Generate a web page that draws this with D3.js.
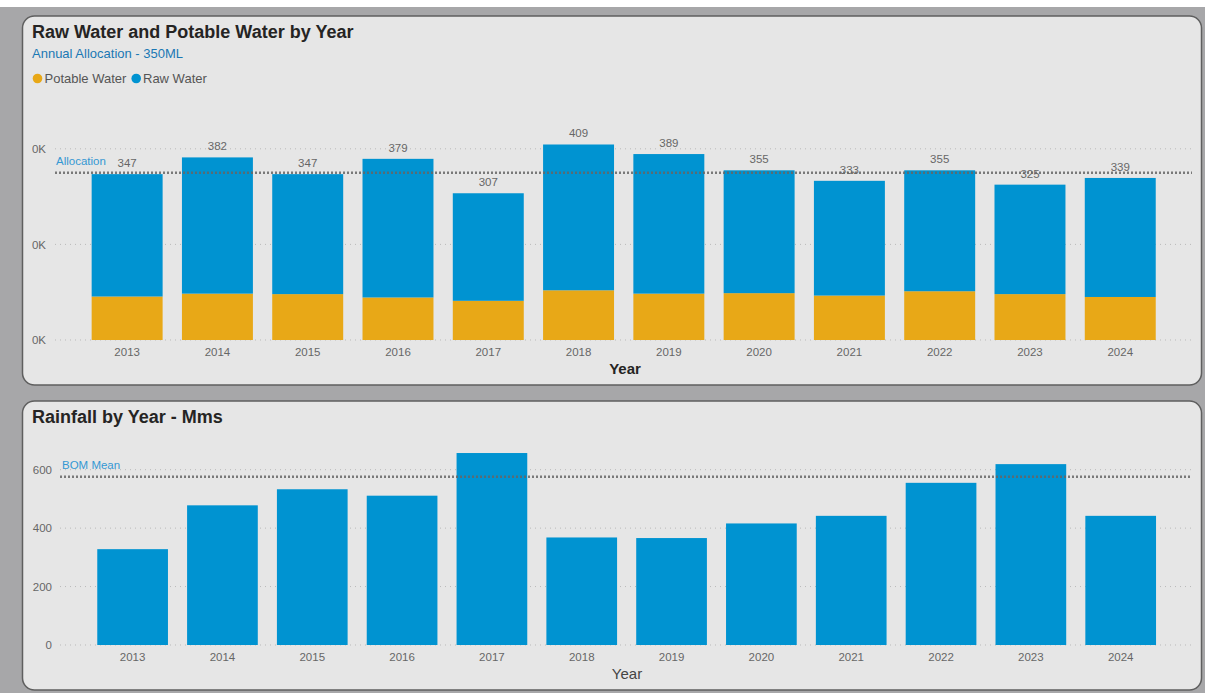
<!DOCTYPE html>
<html>
<head>
<meta charset="utf-8">
<script src="https://cdn.jsdelivr.net/npm/d3@7"></script>
<style>
  html, body { margin: 0; padding: 0; background: #a7a7a9; }
  svg { display: block; font-family: "Liberation Sans", Arial, sans-serif; }
</style>
</head>
<body>
<svg id="chart" width="1205" height="693"></svg>
<script>
// ---- data ----
const years = ["2013","2014","2015","2016","2017","2018","2019","2020","2021","2022","2023","2024"];
const potableWater = [91, 97, 96, 89, 82, 104, 97, 98, 93, 102, 96, 90];
const rawWater = [256, 285, 251, 290, 225, 305, 292, 257, 240, 253, 229, 249];
const totalLabels = [347, 382, 347, 379, 307, 409, 389, 355, 333, 355, 325, 339];
const allocation = 350;
const waterTicks = [0, 200, 400];
const rainfall = [328, 478, 533, 511, 657, 368, 366, 416, 442, 555, 619, 442];
const bomMean = 576;
const rainTicks = [0, 200, 400, 600];
const seriesNames = ["Potable Water", "Raw Water"];

const colors = { potable: "#e8a817", raw: "#0093d1" };
const svg = d3.select("#chart");

// background strip & panels
svg.append("rect").attr("x", 0).attr("y", 0).attr("width", 1205).attr("height", 7).attr("fill", "#ffffff");
function panel(y, h) {
  svg.append("rect").attr("x", 22.5).attr("y", y).attr("width", 1179).attr("height", h)
    .attr("rx", 12).attr("ry", 12).attr("fill", "#e6e6e6").attr("stroke", "#5f5f5f").attr("stroke-width", 1.5);
}
panel(16, 369);
panel(401, 289);

// ---- Chart 1 ----
const g1 = svg.append("g");
g1.append("text").attr("x", 32).attr("y", 37.5).attr("font-size", 18).attr("font-weight", "bold")
  .attr("fill", "#252423").text("Raw Water and Potable Water by Year");
g1.append("text").attr("x", 32).attr("y", 57.5).attr("font-size", 13).attr("fill", "#1a78b4")
  .text("Annual Allocation - 350ML");

const legend = [{ name: seriesNames[0], c: colors.potable, cx: 37.5, tx: 44.5 }, { name: seriesNames[1], c: colors.raw, cx: 136.2, tx: 143 }];
legend.forEach(l => {
  g1.append("circle").attr("cx", l.cx).attr("cy", 78.5).attr("r", 4.8).attr("fill", l.c);
  g1.append("text").attr("x", l.tx).attr("y", 83).attr("font-size", 13).attr("fill", "#555").text(l.name);
});

const x1 = d3.scaleBand().domain(years).range([82, 1165.4]).paddingInner(0.214).paddingOuter(0.107);
const y1 = d3.scaleLinear().domain([0, 440]).range([340, 340 - 440 * 0.478]);

// gridlines
const grid1 = g1.append("g");
waterTicks.forEach(t => {
  grid1.append("line").attr("x1", 55).attr("x2", 1192).attr("y1", y1(t)).attr("y2", y1(t))
    .attr("stroke", "#b9b9b9").attr("stroke-width", 1).attr("stroke-dasharray", "1,4");
});
const yAxis1 = d3.axisLeft(y1).tickValues(waterTicks).tickSize(0).tickPadding(0)
  .tickFormat(d => d3.format(".0f")(d / 1000) + "K");
g1.append("g").attr("transform", "translate(46,0)").call(yAxis1)
  .call(s => s.select(".domain").remove())
  .call(s => s.selectAll("text").attr("font-size", 11.5).attr("fill", "#666").attr("font-family", "Liberation Sans, Arial, sans-serif"));

// stacked bars
const stackData = years.map((y, i) => ({ year: y, potable: potableWater[i], raw: rawWater[i] }));
const stack = d3.stack().keys(["potable", "raw"])(stackData);
g1.append("g").selectAll("g").data(stack).join("g")
  .attr("fill", d => colors[d.key])
  .selectAll("rect").data(d => d).join("rect")
  .attr("x", d => x1(d.data.year)).attr("width", x1.bandwidth())
  .attr("y", d => y1(d[1])).attr("height", d => y1(d[0]) - y1(d[1]));

// allocation line
g1.append("line").attr("x1", 55).attr("x2", 1192).attr("y1", y1(allocation)).attr("y2", y1(allocation))
  .attr("stroke", "#666").attr("stroke-width", 2.5).attr("stroke-dasharray", "2,2").attr("opacity", 0.85);
g1.append("text").attr("x", 56).attr("y", y1(allocation) - 7.5).attr("font-size", 11.5).attr("fill", "#3598d3").text("Allocation");

// total labels
g1.append("g").selectAll("text").data(years).join("text")
  .attr("x", d => x1(d) + x1.bandwidth() / 2)
  .attr("y", (d, i) => y1(potableWater[i] + rawWater[i]) - 7)
  .attr("text-anchor", "middle").attr("font-size", 11.5).attr("fill", "#666")
  .text((d, i) => totalLabels[i]);

// x axis
const xAxis1 = d3.axisBottom(x1).tickSize(0).tickPadding(0);
g1.append("g").attr("transform", "translate(0,348)").call(xAxis1)
  .call(s => s.select(".domain").remove())
  .call(s => s.selectAll("text").attr("font-size", 11.5).attr("fill", "#666").attr("dy", "0.71em").attr("font-family", "Liberation Sans, Arial, sans-serif"));
g1.append("text").attr("x", 625).attr("y", 373.5).attr("text-anchor", "middle").attr("font-size", 15)
  .attr("font-weight", "bold").attr("fill", "#252423").text("Year");

// ---- Chart 2 ----
const g2 = svg.append("g");
g2.append("text").attr("x", 32).attr("y", 422.5).attr("font-size", 18).attr("font-weight", "bold")
  .attr("fill", "#252423").text("Rainfall by Year - Mms");

const x2 = d3.scaleBand().domain(years).range([87.7, 1165.6]).paddingInner(0.213).paddingOuter(0.1065);
const y2 = d3.scaleLinear().domain([0, 680]).range([645, 645 - 680 * 0.2922]);

rainTicks.forEach(t => {
  g2.append("line").attr("x1", 60).attr("x2", 1192).attr("y1", y2(t)).attr("y2", y2(t))
    .attr("stroke", "#b9b9b9").attr("stroke-width", 1).attr("stroke-dasharray", "1,4");
});
const yAxis2 = d3.axisLeft(y2).tickValues(rainTicks).tickSize(0).tickPadding(0).tickFormat(d3.format("d"));
g2.append("g").attr("transform", "translate(52,0)").call(yAxis2)
  .call(s => s.select(".domain").remove())
  .call(s => s.selectAll("text").attr("font-size", 11.5).attr("fill", "#666").attr("font-family", "Liberation Sans, Arial, sans-serif"));

g2.append("g").selectAll("rect").data(years).join("rect")
  .attr("x", d => x2(d)).attr("width", x2.bandwidth())
  .attr("y", (d, i) => y2(rainfall[i])).attr("height", (d, i) => y2(0) - y2(rainfall[i]))
  .attr("fill", colors.raw);

g2.append("line").attr("x1", 60).attr("x2", 1192).attr("y1", y2(bomMean)).attr("y2", y2(bomMean))
  .attr("stroke", "#666").attr("stroke-width", 2.5).attr("stroke-dasharray", "2,2").attr("opacity", 0.85);
g2.append("text").attr("x", 62).attr("y", y2(bomMean) - 8).attr("font-size", 11.5).attr("fill", "#3598d3").text("BOM Mean");

const xAxis2 = d3.axisBottom(x2).tickSize(0).tickPadding(0);
g2.append("g").attr("transform", "translate(0,653)").call(xAxis2)
  .call(s => s.select(".domain").remove())
  .call(s => s.selectAll("text").attr("font-size", 11.5).attr("fill", "#666").attr("dy", "0.71em").attr("font-family", "Liberation Sans, Arial, sans-serif"));
g2.append("text").attr("x", 627).attr("y", 678.5).attr("text-anchor", "middle").attr("font-size", 15)
  .attr("fill", "#444").text("Year");
</script>
</body>
</html>
